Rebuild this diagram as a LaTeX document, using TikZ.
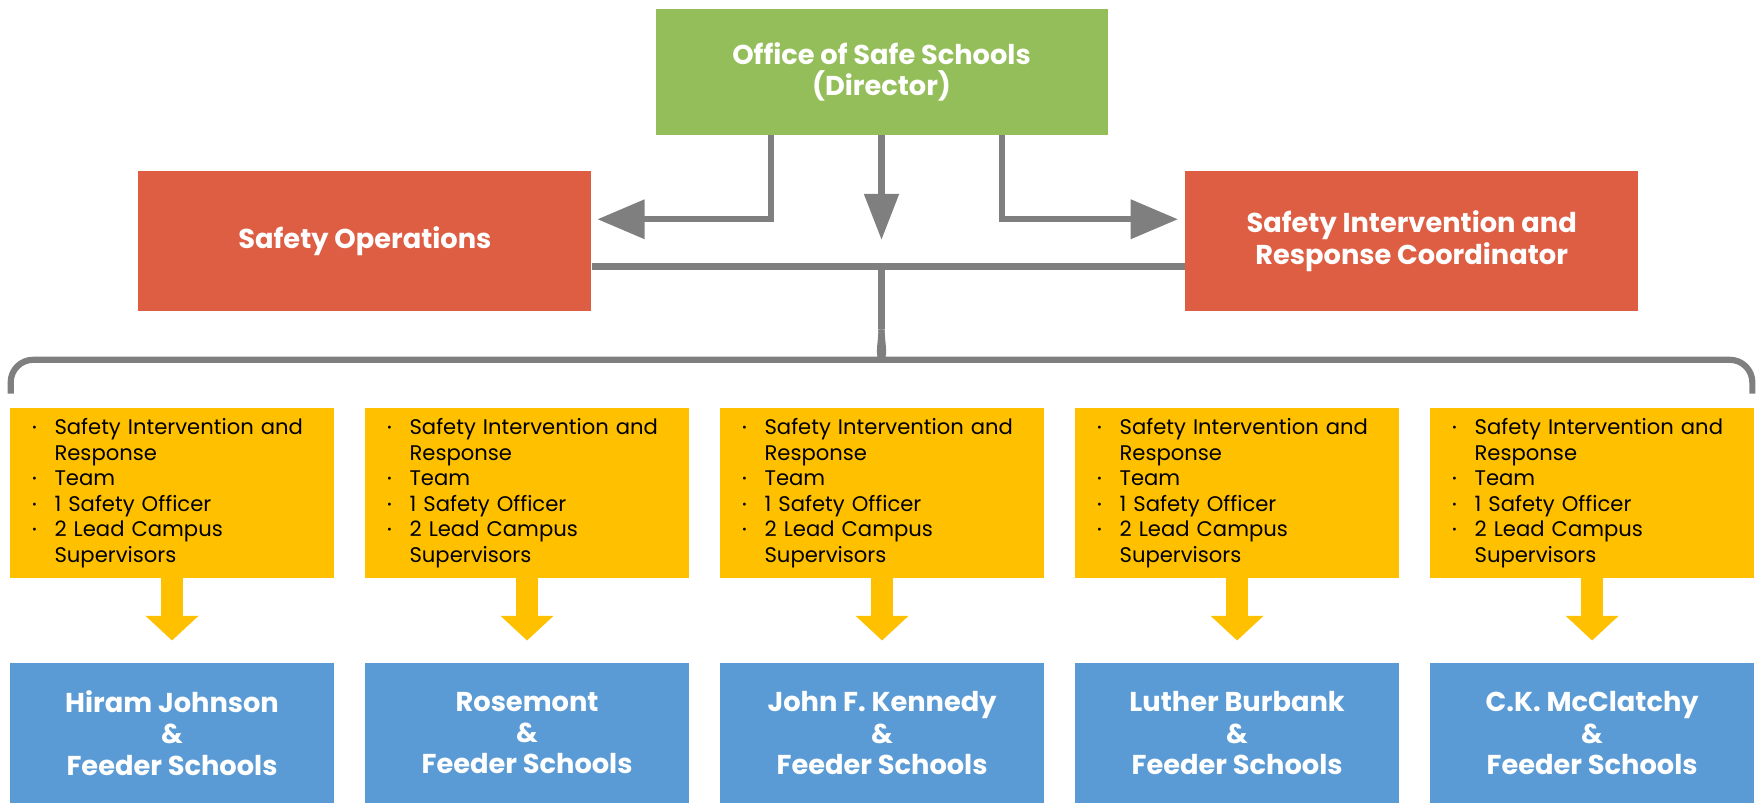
\documentclass[tikz,border=0pt]{standalone}
\usepackage{fontspec}
\setmainfont{Poppins}
\usetikzlibrary{arrows.meta,calc}
\definecolor{safegreen}{HTML}{94BE59}
\definecolor{safered}{HTML}{DE5E44}
\definecolor{safeyellow}{HTML}{FFC000}
\definecolor{safeblue}{HTML}{5B9BD5}
\definecolor{safegray}{HTML}{7F7F7F}
\def\dotitem{\makebox[0.4cm][l]{\raisebox{0.25ex}{\scalebox{0.55}{\textbullet}}}}
\def\teamlist{\dotitem Safety Intervention and\\ \hspace*{0.4cm}Response\\ \dotitem Team\\ \dotitem 1 Safety Officer\\ \dotitem 2 Lead Campus\\ \hspace*{0.4cm}Supervisors}
\tikzset{
	headbox/.style={fill=#1, text=white, minimum width=8.06cm, minimum height=2.5cm, align=center, inner sep=0, font=\bfseries\fontsize{13.8}{15.9}\selectfont},
	teambox/.style={fill=safeyellow, minimum width=5.76cm, minimum height=3.02cm, inner xsep=0.39cm, inner ysep=0, text width=4.98cm, align=left, font=\fontsize{10.7}{12.9}\selectfont},
	schoolbox/.style={fill=safeblue, text=white, minimum width=5.76cm, minimum height=2.48cm, align=center, inner sep=0, font=\bfseries\fontsize{13.8}{15.9}\selectfont},
	conn/.style={draw=safegray, line width=0.11cm},
	feed/.style={draw=safeyellow, line width=0.4cm, -{Triangle[length=0.44cm,width=0.92cm]}}
}
\begin{document}
\begin{tikzpicture}
			%%%%% START %%%%%
			\useasboundingbox (0, 0) rectangle (31.36, -14.28);
			
			\node[headbox=safegreen, minimum width=8.04cm, minimum height=2.24cm] (dir) at (15.68, -1.28) {Office of Safe Schools\\(Director)};
			\node[headbox=safered] (ops) at (6.49, -4.29) {Safety Operations};
			\node[headbox=safered] (sirc) at (25.11, -4.29) {Safety Intervention and\\Response Coordinator};
			
			\draw[conn, -{Triangle[length=0.84cm,width=0.68cm]}] ([xshift=-1.96cm]dir.south) |- ([xshift=0.1cm, yshift=0.39cm]ops.east);
			\draw[conn, -{Triangle[length=0.82cm,width=0.6cm]}] (dir.south) -- ++(0, -1.86);
			\draw[conn, -{Triangle[length=0.84cm,width=0.68cm]}] ([xshift=2.14cm]dir.south) |- ([xshift=-0.12cm, yshift=0.39cm]sirc.west);
			
			\draw[conn] ([yshift=-0.45cm]ops.east) -- ([yshift=-0.45cm]sirc.west);
			
			\coordinate (split) at (15.68, -5.86);
			\draw[conn] ($(ops.east -| dir.south)+(0, -0.45)$) -- (split);
			\draw[conn, rounded corners=0.4cm] (split) to[out=-90, in=0] (15.34, -6.4) -- (0.19, -6.4) -- (0.19, -7.0);
			\draw[conn, rounded corners=0.4cm] (split) to[out=-90, in=180] (16.02, -6.4) -- (31.17, -6.4) -- (31.17, -7.0);
			
			\node[teambox] (team1) at (3.06, -8.77) {\teamlist};
			\node[teambox] (team2) at (9.375, -8.77) {\teamlist};
			\node[teambox] (team3) at (15.69, -8.77) {\teamlist};
			\node[teambox] (team4) at (22.005, -8.77) {\teamlist};
			\node[teambox] (team5) at (28.32, -8.77) {\teamlist};
			
			\node[schoolbox] (school1) at (3.06, -13.04) {Hiram Johnson\\\&\\Feeder Schools};
			\node[schoolbox] (school2) at (9.375, -13.04) {Rosemont\\\&\\Feeder Schools};
			\node[schoolbox] (school3) at (15.69, -13.04) {John F. Kennedy\\\&\\Feeder Schools};
			\node[schoolbox] (school4) at (22.005, -13.04) {Luther Burbank\\\&\\Feeder Schools};
			\node[schoolbox] (school5) at (28.32, -13.04) {C.K. McClatchy\\\&\\Feeder Schools};
			
			\draw[feed] (team1.south) -- ([yshift=0.4cm]school1.north);
			\draw[feed] (team2.south) -- ([yshift=0.4cm]school2.north);
			\draw[feed] (team3.south) -- ([yshift=0.4cm]school3.north);
			\draw[feed] (team4.south) -- ([yshift=0.4cm]school4.north);
			\draw[feed] (team5.south) -- ([yshift=0.4cm]school5.north);
			
			%%%%% END %%%%%
		\end{tikzpicture}
\end{document}
